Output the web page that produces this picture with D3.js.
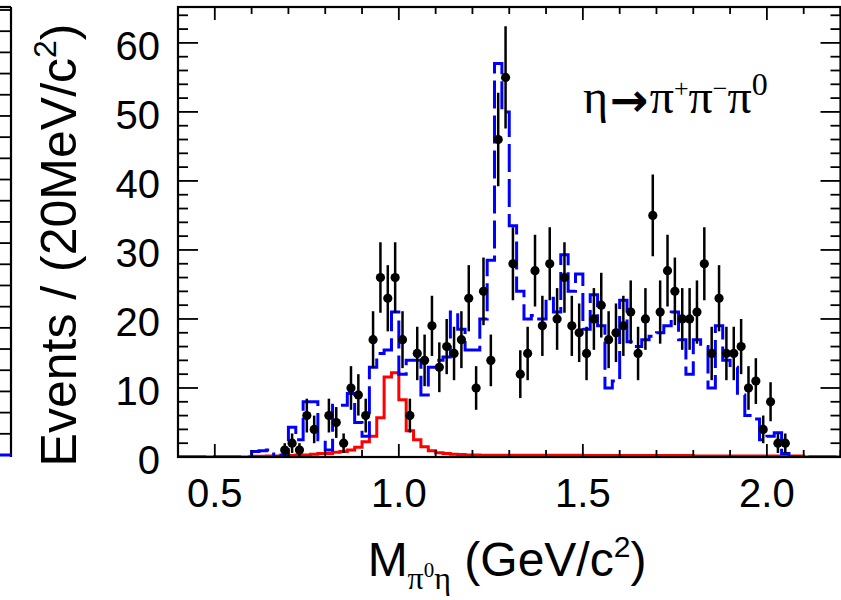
<!DOCTYPE html>
<html>
<head>
<meta charset="utf-8">
<script src="https://cdn.jsdelivr.net/npm/d3@7"></script>
<style>
  body { margin: 0; background: #fff; }
  svg { display: block; }
</style>
</head>
<body>
<svg id="chart" width="841" height="600"></svg>
<script>
// Histogram binning of M(pi0 eta): 20 MeV bins from 0.40 to 2.20 GeV
const binLow = 0.40;
const binWidth = 0.02;

// Total fit (blue dashed), one value per bin
const fitTotal = [
  0, 0, 0, 0, 0, 0, 0, 0, 0, 0,
  0.8, 0.9, 1.0, 0, 0.3, 4.3, 2.5, 8, 8, 2.5,
  1, 7.5, 7.5, 9.2, 5, 3, 13, 15, 15.5, 21,
  12, 14, 14, 9, 13, 14, 14.5, 21, 18.5, 15.5,
  15.5, 20, 28.5, 57, 50, 33.5, 24, 20, 20.5, 20,
  23, 21, 29.3, 24, 26.5, 18.5, 23.5, 19, 10, 11,
  22.7, 16.7, 16, 17, 17.5, 18, 19, 21, 17, 12,
  17, 16, 10, 19, 14, 13, 9, 6, 5.5, 2.5,
  3, 3.5, 0.5, 0, 0, 0, 0, 0, 0, 0
];

// a0(980) component (red), one value per bin
const fitA0 = [
  0, 0, 0, 0, 0, 0, 0, 0, 0, 0,
  0.1, 0.1, 0.15, 0.15, 0.2, 0.2, 0.3, 0.3, 0.4, 0.5,
  0.5, 0.7, 0.8, 1.0, 1.4, 2.2, 3.0, 5.7, 11.6, 12.2,
  8.3, 3.8, 2.5, 1.5, 0.9, 0.6, 0.5, 0.4, 0.35, 0.3,
  0.3, 0.25, 0.25, 0.25, 0.25, 0.25, 0.25, 0.25, 0.25, 0.25,
  0.25, 0.25, 0.25, 0.25, 0.25, 0.2, 0.2, 0.2, 0.2, 0.2,
  0.2, 0.2, 0.2, 0.2, 0.2, 0.2, 0.2, 0.2, 0.2, 0.2,
  0.15, 0.15, 0.15, 0.15, 0.15, 0.15, 0.15, 0.15, 0.15, 0.15,
  0.15, 0.15, 0.15, 0.15, 0.15, 0, 0, 0, 0, 0
];

// Data: bin centres (GeV/c^2) and event counts
const dataMass = [
  0.69, 0.71, 0.73, 0.75, 0.77, 0.81, 0.83, 0.85, 0.87, 0.89,
  0.91, 0.93, 0.95, 0.97, 0.99, 1.01, 1.03, 1.05, 1.07, 1.09,
  1.11, 1.13, 1.15, 1.17, 1.19, 1.21, 1.23, 1.25, 1.27, 1.29,
  1.31, 1.33, 1.35, 1.37, 1.39, 1.41, 1.43, 1.45, 1.47, 1.49,
  1.51, 1.53, 1.55, 1.57, 1.59, 1.61, 1.63, 1.65, 1.67, 1.69,
  1.71, 1.73, 1.75, 1.77, 1.79, 1.81, 1.83, 1.85, 1.87, 1.89,
  1.91, 1.93, 1.95, 1.97, 1.99, 2.01, 2.03, 2.05
];
const dataCounts = [
  1, 2, 1, 6, 4, 6, 5, 2, 10, 9,
  6, 17, 26, 23, 26, 17, 6, 15, 14, 19,
  13, 16, 15, 17, 23, 10, 24, 14, 46, 55,
  28, 12, 15, 27, 19, 28, 20, 26, 19, 18,
  15, 20, 22, 17, 18, 19, 21, 15, 20, 35,
  21, 27, 24, 20, 20, 21, 28, 15, 23, 15,
  15, 16, 10, 11, 4, 8, 2, 2
];

// Axis ticks and labels
const xMajorTicks = [0.5, 1.0, 1.5, 2.0];
const xTickLabels = ["0.5", "1.0", "1.5", "2.0"];
const xMinorTicks = [0.4, 0.6, 0.7, 0.8, 0.9, 1.1, 1.2, 1.3, 1.4, 1.6, 1.7, 1.8, 1.9, 2.1, 2.2];
const yMajorTicks = [0, 10, 20, 30, 40, 50, 60];
const yTickLabels = ["0", "10", "20", "30", "40", "50", "60"];
const yMinorTicks = [2, 4, 6, 8, 12, 14, 16, 18, 22, 24, 26, 28, 32, 34, 36, 38,
                     42, 44, 46, 48, 52, 54, 56, 58, 62, 64];
// Neighbouring panel's right-hand axis ticks
const neighbourTicks = [0, 5, 10, 15, 20, 25, 30, 35, 40, 45, 50, 55, 60, 65, 70, 75,
                        80, 85, 90, 95, 100, 105];

const svg = d3.select("#chart");
const L = 178, R = 840.5, T = 7, B = 457;

const x = d3.scaleLinear().domain([0.4, 2.2]).range([L, R]);
const y = d3.scaleLinear().domain([0, 65.2]).range([B, T]);
const yNeighbour = d3.scaleLinear().domain([0, 105]).range([455, 10]);

const sans = "'Liberation Sans', Arial, Helvetica, sans-serif";
const serif = "'Liberation Serif', 'Times New Roman', Times, serif";

svg.append("defs").append("clipPath").attr("id", "plotClip")
  .append("rect").attr("x", L).attr("y", T).attr("width", R - L).attr("height", B - T);

// ---- neighbouring panel edge on the far left ----
const nb = svg.append("g");
nb.append("line").attr("x1", 11).attr("x2", 11).attr("y1", T).attr("y2", B)
  .attr("stroke", "#000").attr("stroke-width", 2.2);
nb.append("line").attr("x1", 0).attr("x2", 11).attr("y1", T).attr("y2", T)
  .attr("stroke", "#000").attr("stroke-width", 2.2);
nb.selectAll("line.nt").data(neighbourTicks).join("line").attr("class", "nt")
  .attr("x1", 0).attr("x2", 11)
  .attr("y1", d => yNeighbour(d)).attr("y2", d => yNeighbour(d))
  .attr("stroke", "#000").attr("stroke-width", 1.8);
nb.append("line").attr("x1", 0).attr("x2", 11).attr("y1", 455).attr("y2", 455)
  .attr("stroke", "#0000ff").attr("stroke-width", 3);

// ---- histograms ----
const stepLine = d3.line()
  .x(d => x(d[0])).y(d => y(d[1]))
  .curve(d3.curveStepAfter);

function histPoints(values) {
  const pts = values.map((v, i) => [binLow + i * binWidth, v]);
  pts.push([binLow + values.length * binWidth, values[values.length - 1]]);
  return pts;
}

const plot = svg.append("g").attr("clip-path", "url(#plotClip)");

plot.append("path")
  .attr("d", stepLine(histPoints(fitA0)))
  .attr("fill", "none").attr("stroke", "#ff0000").attr("stroke-width", 3);

plot.append("path")
  .attr("d", stepLine(histPoints(fitTotal)))
  .attr("fill", "none").attr("stroke", "#0000ff").attr("stroke-width", 3)
  .attr("stroke-dasharray", "28,7");

// ---- data points with statistical errors ----
const pts = dataMass.map((m, i) => ({ m, n: dataCounts[i] }));
plot.selectAll("line.err").data(pts).join("line").attr("class", "err")
  .attr("x1", d => x(d.m)).attr("x2", d => x(d.m))
  .attr("y1", d => y(d.n + Math.sqrt(d.n))).attr("y2", d => y(Math.max(0, d.n - Math.sqrt(d.n))))
  .attr("stroke", "#000").attr("stroke-width", 2.5);
plot.selectAll("circle.pt").data(pts).join("circle").attr("class", "pt")
  .attr("cx", d => x(d.m)).attr("cy", d => y(d.n)).attr("r", 4.6)
  .attr("fill", "#000");

// ---- frame and ticks ----
const ax = svg.append("g").attr("stroke", "#000");
ax.append("rect").attr("x", L).attr("y", T).attr("width", R - L).attr("height", B - T)
  .attr("fill", "none").attr("stroke-width", 2.2);

function xTick(v, len) {
  ax.append("line").attr("x1", x(v)).attr("x2", x(v)).attr("y1", B).attr("y2", B - len).attr("stroke-width", 1.8);
  ax.append("line").attr("x1", x(v)).attr("x2", x(v)).attr("y1", T).attr("y2", T + len).attr("stroke-width", 1.8);
}
function yTick(v, len) {
  ax.append("line").attr("x1", L).attr("x2", L + len).attr("y1", y(v)).attr("y2", y(v)).attr("stroke-width", 1.8);
  ax.append("line").attr("x1", R).attr("x2", R - len).attr("y1", y(v)).attr("y2", y(v)).attr("stroke-width", 1.8);
}
xMajorTicks.forEach(v => xTick(v, 13));
xMinorTicks.forEach(v => xTick(v, 7));
yMajorTicks.forEach(v => yTick(v, 20));
yMinorTicks.forEach(v => yTick(v, 10));

// ---- tick labels ----
svg.append("g").selectAll("text").data(xMajorTicks).join("text")
  .attr("x", d => x(d)).attr("y", 507)
  .attr("text-anchor", "middle")
  .attr("font-family", sans).attr("font-size", 40).attr("fill", "#000")
  .text((d, i) => xTickLabels[i]);

svg.append("g").selectAll("text").data(yMajorTicks).join("text")
  .attr("x", 160).attr("y", d => y(d)).attr("dy", "0.42em")
  .attr("text-anchor", "end")
  .attr("font-family", sans).attr("font-size", 40).attr("fill", "#000")
  .text((d, i) => yTickLabels[i]);

// ---- axis titles ----
const xt = svg.append("text")
  .attr("x", 507).attr("y", 576).attr("text-anchor", "middle")
  .attr("font-family", sans).attr("font-size", 48).attr("fill", "#000");
xt.append("tspan").text("M");
xt.append("tspan").attr("font-family", serif).attr("font-size", 32).attr("dy", 13).text("π");
xt.append("tspan").attr("font-family", serif).attr("font-size", 21).attr("dy", -12).text("0");
xt.append("tspan").attr("font-family", serif).attr("font-size", 32).attr("dy", 12).text("η");
xt.append("tspan").attr("dy", -13).text(" (GeV/c");
xt.append("tspan").attr("font-size", 30).attr("dy", -19).text("2");
xt.append("tspan").attr("dy", 19).text(")");

const yt = svg.append("text")
  .attr("transform", "translate(76,245) rotate(-90)")
  .attr("text-anchor", "middle")
  .attr("font-family", sans).attr("font-size", 50).attr("fill", "#000");
yt.append("tspan").text("Events / (20MeV/c");
yt.append("tspan").attr("font-size", 32).attr("dy", -20).text("2");
yt.append("tspan").attr("dy", 20).text(")");

// ---- decay mode annotation ----
const ann = svg.append("text")
  .attr("x", 583).attr("y", 113)
  .attr("font-family", serif).attr("font-size", 48).attr("fill", "#000");
ann.append("tspan").text("η");
ann.append("tspan").attr("font-family", "'DejaVu Sans', sans-serif").attr("font-weight", "bold")
  .attr("font-size", 46).attr("dx", 2).attr("dy", 3).text("→");
ann.append("tspan").attr("dx", 1).attr("dy", -3).text("π");
ann.append("tspan").attr("font-size", 26).attr("dy", -16).text("+");
ann.append("tspan").attr("dy", 16).text("π");
ann.append("tspan").attr("font-size", 26).attr("dy", -16).text("−");
ann.append("tspan").attr("dy", 16).text("π");
ann.append("tspan").attr("font-size", 32).attr("dy", -18).text("0");
</script>
</body>
</html>
